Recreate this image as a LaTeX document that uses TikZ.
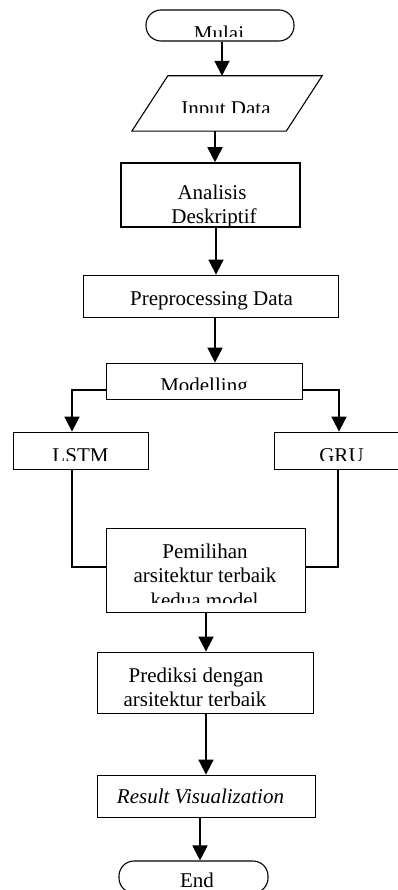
\documentclass[tikz,border=0pt]{standalone}
\usepackage{fontspec}
\setmainfont{Liberation Serif}
\usetikzlibrary{arrows.meta}
\begin{document}
\begin{tikzpicture}[x=1pt,y=-1pt,
  box/.style={draw,line width=0.8pt,inner sep=0pt},
  term/.style={box,line width=1.1pt,rounded corners=15pt},
  lbl/.style={anchor=base,inner sep=0pt,font=\fontsize{21}{25}\selectfont},
  arr/.style={line width=1.8pt,-{Triangle[width=15pt,length=15pt]}},
  conn/.style={line width=1.3pt}]
\useasboundingbox (0,0) rectangle (398,890);
% Mulai
\node[term,minimum width=148pt,minimum height=31pt] (mulai) at (220,25.5) {};
\begin{scope}\clip (146,10) rectangle (294,37);
\node[lbl] (tmulai) at (219,41) {Mulai};\end{scope}
% Input Data
\node[inner sep=0pt,minimum width=154pt,minimum height=55pt] (input) at (227,103.5) {};
\draw[box,line width=1.1pt] ([xshift=18pt]input.north west) -- ([xshift=18pt]input.north east)
  -- ([xshift=-18pt]input.south east) -- ([xshift=-18pt]input.south west) -- cycle;
\begin{scope}\clip (150,76) rectangle (304,113);
\node[lbl] (tinput) at (226,116) {Input Data};\end{scope}
% Analisis
\node[box,line width=1.6pt,minimum width=179pt,minimum height=64pt] (anal) at (210.5,195) {};
\node[lbl] (tanal1) at (212,200) {Analisis};
\node[lbl] (tanal2) at (214,224) {Deskriptif};
% Preprocessing
\node[box,minimum width=255pt,minimum height=42pt] (prep) at (210.5,296) {};
\node[lbl] (tprep) at (211.5,305) {Preprocessing Data};
% Modelling
\node[box,minimum width=196pt,minimum height=36pt] (model) at (204,381) {};
\begin{scope}\clip (106,363) rectangle (302,389);
\node[lbl] (tmodel) at (204,392) {Modelling};\end{scope}
% LSTM / GRU
\node[box,minimum width=135pt,minimum height=37pt] (lstm) at (80.5,450.5) {};
\begin{scope}\clip (13,432) rectangle (148,460);
\node[lbl] (tlstm) at (80.5,462) {LSTM};\end{scope}
\node[box,minimum width=135pt,minimum height=37pt] (gru) at (341.5,450.5) {};
\begin{scope}\clip (274,432) rectangle (398,460);
\node[lbl] (tgru) at (341.5,462) {GRU};\end{scope}
% Pemilihan
\node[box,minimum width=199pt,minimum height=84pt] (pem) at (205.5,570) {};
\node[lbl] (tpem1) at (205,558) {Pemilihan};
\node[lbl] (tpem2) at (205,582) {arsitektur terbaik};
\begin{scope}\clip (106,528) rectangle (305,602);
\node[lbl] (tpem3) at (204.5,607) {kedua model};\end{scope}
% Prediksi
\node[box,minimum width=216pt,minimum height=61pt] (pred) at (205,682.5) {};
\node[lbl] (tpred1) at (196,682) {Prediksi dengan};
\begin{scope}\clip (97,652) rectangle (313,705);
\node[lbl] (tpred2) at (195,706) {arsitektur terbaik};\end{scope}
% Result
\node[box,minimum width=218pt,minimum height=42pt] (res) at (206,796) {};
\node[lbl] (tres) at (200.5,803) {\itshape Result Visualization};
% End
\node[term,minimum width=149pt,minimum height=32pt] (fin) at (193.5,877) {};
\node[lbl] (tfin) at (197,887) {End};
% arrows
\draw[arr] ([xshift=2pt]mulai.south) -- ([xshift=2pt]mulai.south |- input.north);
\draw[arr] ([xshift=-12pt]input.south) -- ([xshift=-12pt]input.south |- anal.north);
\draw[arr] ([xshift=5.5pt]anal.south) -- ([xshift=5.5pt]anal.south |- prep.north);
\draw[arr] ([xshift=4.5pt]prep.south) -- ([xshift=4.5pt]prep.south |- model.north);
\draw[arr] ([yshift=-9pt]model.west) -| ([xshift=-8.5pt]lstm.north);
\draw[arr] ([yshift=-9pt]model.east) -| ([xshift=-2.5pt]gru.north);
\draw[conn] ([xshift=-8.5pt]lstm.south) |- ([yshift=3pt]pem.west);
\draw[conn] ([xshift=-3.5pt]gru.south) |- ([yshift=3pt]pem.east);
\draw[arr] ([xshift=0.5pt]pem.south) -- ([xshift=0.5pt]pem.south |- pred.north);
\draw[arr] ([xshift=1pt]pred.south) -- ([xshift=1pt]pred.south |- res.north);
\draw[arr] ([xshift=-6pt]res.south) -- ([xshift=-6pt]res.south |- fin.north);
\end{tikzpicture}
\end{document}
